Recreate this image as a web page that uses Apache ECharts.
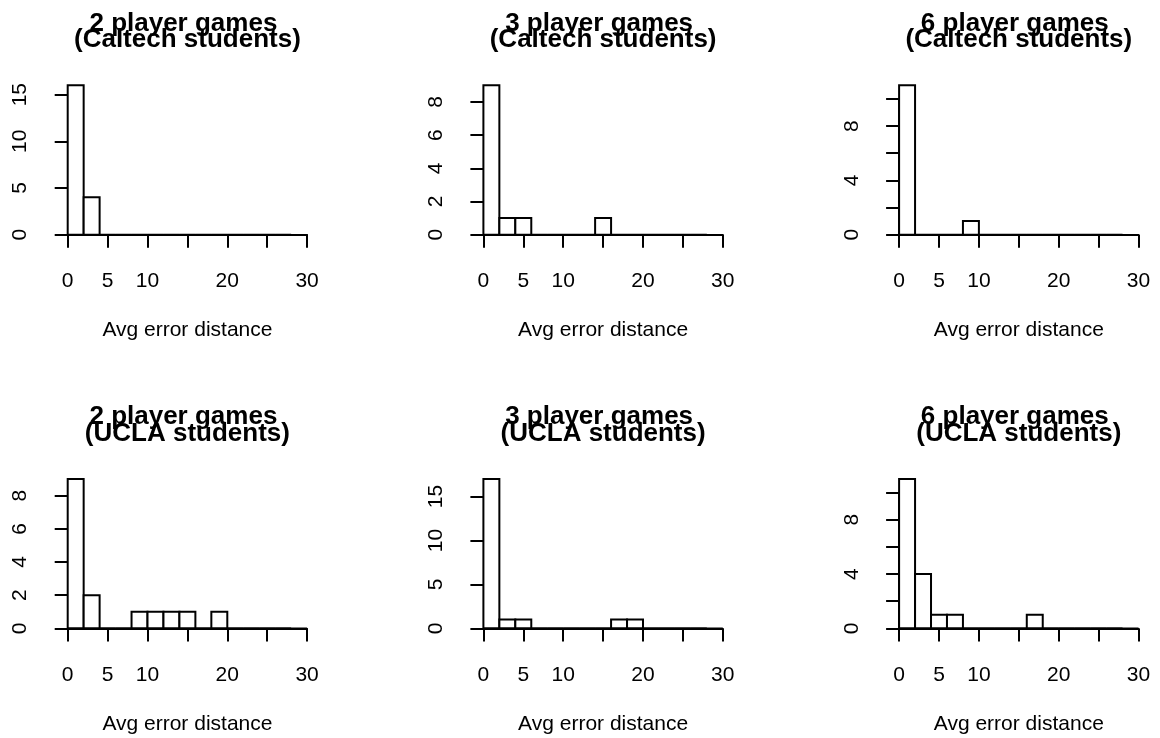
<!DOCTYPE html>
<html>
<head>
<meta charset="utf-8">
<script src="https://cdn.jsdelivr.net/npm/echarts@6/dist/echarts.min.js"></script>
<style>
  html, body { margin: 0; padding: 0; background: #ffffff; }
  #chart { width: 1160px; height: 738px; }
</style>
</head>
<body>
<div id="chart"></div>
<script>
// ---- data ----
const breaks = [0, 2, 4, 6, 8, 10, 12, 14, 16, 18, 20, 22, 24, 26, 28];
const caltech2 = [16, 4, 0, 0, 0, 0, 0, 0, 0, 0, 0, 0, 0, 0];
const caltech3 = [9, 1, 1, 0, 0, 0, 0, 1, 0, 0, 0, 0, 0, 0];
const caltech6 = [11, 0, 0, 0, 1, 0, 0, 0, 0, 0, 0, 0, 0, 0];
const ucla2 = [9, 2, 0, 0, 1, 1, 1, 1, 0, 1, 0, 0, 0, 0];
const ucla3 = [17, 1, 1, 0, 0, 0, 0, 0, 1, 1, 0, 0, 0, 0];
const ucla6 = [11, 4, 1, 1, 0, 0, 0, 0, 1, 0, 0, 0, 0, 0];

const xLim = [0, 30];
const xTickStep = 5;
const xTickLabels = [0, 5, 10, 20, 30];

const yTickSteps = [5, 2, 2, 2, 5, 2];
const yTickTops = [15, 8, 10, 8, 15, 10];
const yTickLabels = [
  [0, 5, 10, 15], [0, 2, 4, 6, 8], [0, 4, 8],
  [0, 2, 4, 6, 8], [0, 5, 10, 15], [0, 4, 8]
];

const gameTitles = ['2 player games', '3 player games', '6 player games'];
const groupTitles = ['(Caltech students)', '(UCLA students)'];
const xTitle = 'Avg error distance';

const panelCounts = [caltech2, caltech3, caltech6, ucla2, ucla3, ucla6];

// ---- layout ----
const FONT = '"Liberation Sans", Arial, Helvetica, sans-serif';
const colX = [0, 415.7, 831.4];
const rowY = [0, 393.7];
const plotX0 = 67.7;      // pixel of x = 0 in first panel
const plotXW = 239.4;     // pixel width of x range 0..30
const zeroY0 = 234.7;     // pixel of count 0 in first row
const plotH = 161.3;      // full R plot-region height
const LW = 2;

const grids = [], xAxes = [], yAxes = [], series = [], graphics = [];

panelCounts.forEach((counts, p) => {
  const c = p % 3, r = Math.floor(p / 3);
  const dx = colX[c], dy = rowY[r];
  const maxC = Math.max(...counts);
  const ppu = plotH / (1.08 * maxC);
  const top = yTickTops[p];
  const zeroY = zeroY0 + dy;
  grids.push({
    left: plotX0 + dx, width: plotXW,
    top: zeroY - top * ppu, height: top * ppu,
    containLabel: false
  });
  const shownX = xTickLabels;
  xAxes.push({
    gridIndex: p, type: 'value', min: xLim[0], max: xLim[1], interval: xTickStep,
    offset: 0.04 * maxC * ppu,
    axisLine: { show: true, lineStyle: { color: '#000', width: LW } },
    axisTick: { show: true, length: 13, lineStyle: { color: '#000', width: LW } },
    axisLabel: {
      show: true, margin: 30, color: '#000', fontSize: 21, fontFamily: FONT,
      formatter: v => shownX.includes(v) ? String(v) : ''
    },
    splitLine: { show: false },
    name: xTitle, nameLocation: 'middle', nameGap: 79,
    nameTextStyle: { color: '#000', fontSize: 21, fontFamily: FONT }
  });
  const shownY = yTickLabels[p];
  yAxes.push({
    gridIndex: p, type: 'value', min: 0, max: top, interval: yTickSteps[p],
    offset: 1.2 * plotXW / 30,
    axisLine: { show: true, lineStyle: { color: '#000', width: LW } },
    axisTick: { show: true, length: 13, lineStyle: { color: '#000', width: LW } },
    axisLabel: {
      show: true, rotate: 90, margin: 27, color: '#000', fontSize: 21, fontFamily: FONT,
      formatter: v => shownY.includes(v) ? String(v) : ''
    },
    splitLine: { show: false }
  });
  series.push({
    type: 'line', xAxisIndex: p, yAxisIndex: p,
    data: [[xLim[0], 0], [xLim[1], 0]],
    symbol: 'none', silent: true, animation: false,
    lineStyle: { color: '#000', width: 1.6 }
  });
  series.push({
    type: 'custom', xAxisIndex: p, yAxisIndex: p, animation: false, clip: false,
    data: counts.map((v, i) => [breaks[i], breaks[i] + (breaks[1] - breaks[0]), v]),
    renderItem: (params, api) => {
      const a = api.coord([api.value(0), 0]);
      const b = api.coord([api.value(1), api.value(2)]);
      return {
        type: 'rect',
        shape: { x: a[0], y: b[1], width: b[0] - a[0], height: a[1] - b[1] },
        style: { fill: '#ffffff', stroke: '#000000', lineWidth: LW }
      };
    }
  });
  // titles (two overlapping bold lines as in the R output)
  const cx = (plotX0 - 1.2 * plotXW / 30 + plotX0 + 31.2 * plotXW / 30) / 2 + dx;
  const fs = 26;
  graphics.push({
    type: 'text', x: cx - 4, y: 31.5 + dy - 0.31 * fs,
    style: { text: gameTitles[c], font: 'bold ' + fs + 'px ' + FONT, fill: '#000',
             align: 'center', verticalAlign: 'middle' }
  });
  graphics.push({
    type: 'text', x: cx, y: 48 + dy - 0.31 * fs,
    style: { text: groupTitles[r], font: 'bold ' + fs + 'px ' + FONT, fill: '#000',
             align: 'center', verticalAlign: 'middle' }
  });
});

const chart = echarts.init(document.getElementById('chart'), null, { renderer: 'canvas' });
chart.setOption({
  backgroundColor: '#ffffff',
  animation: false,
  grid: grids,
  xAxis: xAxes,
  yAxis: yAxes,
  series: series,
  graphic: graphics
});
</script>
</body>
</html>
